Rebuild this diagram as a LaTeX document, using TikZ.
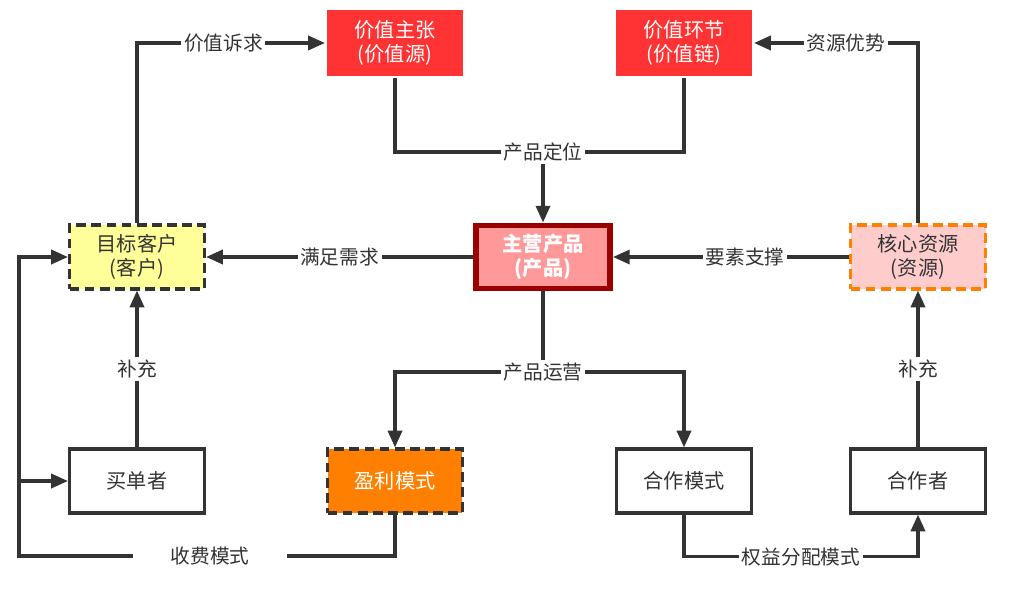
\documentclass[tikz,border=0pt]{standalone}
\usepackage{fontspec}
\setmainfont{Noto Sans CJK SC}
\usetikzlibrary{arrows.meta}
\definecolor{linegray}{HTML}{333333}
\definecolor{valred}{HTML}{FF3333}
\definecolor{prodpink}{HTML}{FF9999}
\definecolor{prodborder}{HTML}{990000}
\definecolor{custyellow}{HTML}{FFFF99}
\definecolor{respink}{HTML}{FFCCCC}
\definecolor{resorange}{HTML}{FF8000}
\begin{document}
\begin{tikzpicture}[x=0.02cm, y=-0.02cm, >={Triangle[length=9.5pt,width=8pt]},
    line width=1.8pt, draw=linegray,
    box/.style={draw=linegray, line width=1.8pt, minimum width=2.7cm, minimum height=1.28cm, align=center, text=linegray, font=\fontsize{11.5}{14}\selectfont},
    dashbox/.style={box, dash pattern=on 5.6pt off 3pt},
    lbl/.style={fill=white, inner sep=1.5pt, text=linegray, font=\fontsize{11.2}{13}\selectfont}]
    \useasboundingbox (0,0) rectangle (1020,594);
    % 第一行：价值
    \node[box, draw=none, fill=valred, text=white, minimum width=2.74cm, minimum height=1.32cm] (zhuzhang) at (395,43) {价值主张\\(价值源)};
    \node[box, draw=none, fill=valred, text=white, minimum width=2.74cm, minimum height=1.32cm] (huanjie) at (684,43) {价值环节\\(价值链)};
    % 第二行：客户、产品、资源
    \node[dashbox, fill=custyellow] (kehu) at (137,257) {目标客户\\(客户)};
    \node[box, draw=prodborder, line width=3.4pt, minimum width=2.68cm, minimum height=1.26cm, fill=prodpink, text=white, font=\fontsize{11.5}{14}\selectfont\bfseries] (chanpin) at (543,257) {主营产品\\(产品)};
    \node[dashbox, draw=resorange, fill=respink] (ziyuan) at (918,257) {核心资源\\(资源)};
    % 第三行：模式与参与者
    \node[box] (maidan) at (137,481) {买单者};
    \node[dashbox, fill=resorange, text=white] (yingli) at (395,481) {盈利模式};
    \node[box] (hezuo) at (684,481) {合作模式};
    \node[box] (hezuozhe) at (918,481) {合作者};
    % 箭头
    \draw[->] (kehu.north) |- node[lbl, pos=0.73] {价值诉求} (zhuzhang.west);
    \draw[->] (ziyuan.north) |- node[lbl, pos=0.72] {资源优势} (huanjie.east);
    \coordinate (dingwei) at (543,152);
    \draw (zhuzhang.south) |- (dingwei) -| (huanjie.south);
    \draw[->] (dingwei) -- (chanpin.north);
    \node[lbl] (dingweilbl) at (dingwei) {产品定位};
    \draw[->] (chanpin.west) -- node[lbl] {满足需求} (kehu.east);
    \draw[->] (ziyuan.west) -- node[lbl, pos=0.44] {要素支撑} (chanpin.east);
    \coordinate (yunying) at (543,372);
    \draw (chanpin.south) -- (yunying);
    \draw[->] (yunying) -| (yingli.north);
    \draw[->] (yunying) -| (hezuo.north);
    \node[lbl] (yunyinglbl) at (yunying) {产品运营};
    \draw[->] (maidan.north) -- node[lbl] {补充} (kehu.south);
    \draw[->] (hezuozhe.north) -- node[lbl] {补充} (ziyuan.south);
    \coordinate (shoufei) at (19,556);
    \draw[->] (yingli.south) |- node[lbl, pos=0.746, minimum width=3.1cm] {收费模式} (shoufei) |- (kehu.west);
    \draw[->] (maidan.west -| shoufei) -- (maidan.west);
    \draw[->] (hezuo.south) -- ++(0,42) -| node[lbl, pos=0.25] {权益分配模式} (hezuozhe.south);
\end{tikzpicture}
\end{document}
